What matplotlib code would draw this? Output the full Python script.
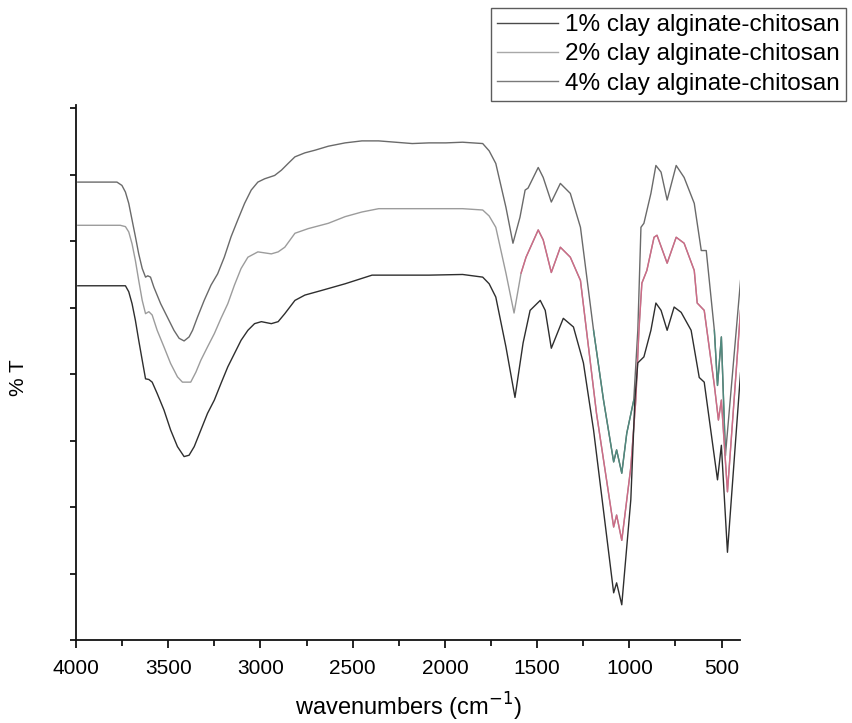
import numpy as np
import matplotlib
matplotlib.use("Agg")
import matplotlib.pyplot as plt
from matplotlib.ticker import MultipleLocator

# ---------------- data (wavenumber cm-1, %T arbitrary offset units) -------------
labels = ["1% clay alginate-chitosan", "2% clay alginate-chitosan", "4% clay alginate-chitosan"]

wn1 = [3990, 3778, 3751, 3732, 3714, 3696, 3678, 3660, 3641, 3623, 3611, 3596, 3578, 3541,
       3505, 3469, 3441, 3414, 3387, 3368, 3341, 3305, 3268, 3232, 3196, 3159, 3123, 3086,
       3050, 3014, 2977, 2923, 2886, 2850, 2813, 2759, 2704, 2632, 2541, 2450, 2359, 2268,
       2177, 2086, 1995, 1904, 1850, 1795, 1760, 1724, 1669, 1631, 1593, 1565,
       1549, 1494, 1467, 1423, 1374, 1320, 1265, 1194, 1140, 1085, 1069, 1041, 1014, 976,
       954, 937, 921, 883, 856, 828, 795, 746, 703, 648, 610, 583, 539, 522, 501, 479, 397]
t1 = [6.89, 6.89, 6.84, 6.74, 6.57, 6.32, 6.07, 5.81, 5.59, 5.46, 5.48, 5.46, 5.31, 5.06,
      4.86, 4.66, 4.54, 4.50, 4.56, 4.66, 4.86, 5.11, 5.34, 5.51, 5.76, 6.07, 6.32, 6.57,
      6.77, 6.89, 6.94, 6.99, 7.07, 7.17, 7.27, 7.33, 7.37, 7.43, 7.48, 7.51, 7.51, 7.49,
      7.47, 7.48, 7.48, 7.49, 7.48, 7.47, 7.36, 7.17, 6.51, 5.97, 6.36, 6.77,
      6.80, 7.11, 6.96, 6.59, 6.87, 6.72, 6.21, 4.66, 3.61, 2.68, 2.86, 2.51, 3.11, 3.61,
      4.66, 6.21, 6.27, 6.72, 7.14, 7.04, 6.62, 7.14, 6.96, 6.57, 5.86, 5.86, 4.66, 3.83,
      4.56, 2.78, 5.41]

wn2 = [3990, 3760, 3732, 3714, 3696, 3678, 3660, 3641, 3623, 3605, 3587, 3560, 3523, 3487,
       3450, 3423, 3378, 3350, 3323, 3287, 3250, 3214, 3177, 3141, 3105, 3068, 3014, 2941,
       2904, 2868, 2813, 2741, 2632, 2541, 2450, 2359, 2268, 2086, 1904, 1795, 1760, 1724,
       1669, 1625, 1587, 1560, 1494, 1467,
       1423, 1374, 1320, 1265, 1178, 1085, 1069, 1041, 992, 965, 948, 932, 905, 866, 850,
       795, 746, 703, 648, 632, 594, 539, 517, 501, 468, 397]
t2 = [6.24, 6.24, 6.22, 6.14, 5.96, 5.71, 5.41, 5.11, 4.91, 4.94, 4.89, 4.66, 4.41, 4.16,
      3.96, 3.88, 3.88, 4.03, 4.21, 4.41, 4.61, 4.84, 5.06, 5.34, 5.59, 5.76, 5.84, 5.81,
      5.84, 5.91, 6.12, 6.19, 6.27, 6.37, 6.44, 6.49, 6.49, 6.49, 6.49, 6.47, 6.38, 6.21,
      5.52, 4.92, 5.52, 5.76, 6.17, 6.02,
      5.53, 5.91, 5.76, 5.41, 3.41, 1.70, 1.88, 1.50, 2.60, 3.61, 4.66, 5.37, 5.56, 6.06,
      6.09, 5.67, 6.06, 5.97, 5.56, 5.07, 4.96, 3.83, 3.31, 3.61, 2.23, 4.96]

wn3 = [3990, 3732, 3714, 3696, 3678, 3660, 3641, 3623, 3605, 3587, 3560, 3523, 3487, 3450,
       3414, 3387, 3359, 3323, 3287, 3250, 3214, 3177, 3141, 3105, 3068, 3032, 2995, 2941,
       2904, 2868, 2813, 2759, 2668, 2541, 2395, 2268, 2086, 1904, 1795, 1760, 1724,
       1669, 1620, 1576, 1538, 1483, 1456, 1423,
       1358, 1303, 1249, 1194, 1085, 1069, 1041, 992, 970, 954, 921, 883, 856, 828, 795,
       757, 719, 665, 621, 594, 522, 501, 468, 397]
t3 = [5.33, 5.33, 5.24, 5.06, 4.81, 4.51, 4.21, 3.93, 3.92, 3.88, 3.71, 3.46, 3.16, 2.91,
      2.76, 2.78, 2.91, 3.16, 3.41, 3.61, 3.86, 4.11, 4.31, 4.51, 4.66, 4.76, 4.79, 4.76,
      4.79, 4.91, 5.11, 5.19, 5.26, 5.36, 5.49, 5.49, 5.49, 5.50, 5.46, 5.36, 5.16,
      4.41, 3.65, 4.47, 4.96, 5.11, 4.96, 4.39,
      4.84, 4.71, 4.17, 3.16, 0.71, 0.86, 0.53, 2.11, 3.61, 4.17, 4.26, 4.66, 5.07, 4.96,
      4.66, 5.01, 4.93, 4.66, 3.95, 3.88, 2.41, 2.93, 1.32, 4.02]

series = [(wn1, t1), (wn2, t2), (wn3, t3)]
base_colors = ["#6a6a6a", "#9c9c9c", "#2e2e2e"]
legend_colors = ["#4a4a4a", "#a8a8a8", "#7a7a7a"]
# accent (scan tint) colour ranges: (high wn, low wn, colour)
accents = [
    [(1200, 955, "#4f8a7e"), (545, 470, "#4f8a7e")],
    [(1600, 397, "#cf6a86")],
    [],
]

xticks = [4000, 3500, 3000, 2500, 2000, 1500, 1000, 500]

# ---------------- figure ----------------
fig = plt.figure(figsize=(8.52, 7.23), dpi=100)
ax = fig.add_axes([76 / 852, 1 - 640 / 723, 664 / 852, 535 / 723])

fam = ["Liberation Sans", "DejaVu Sans"]

handles = []
for (wn, t), c, lc, acc, lab in zip(series, base_colors, legend_colors, accents, labels):
    wn = np.array(wn, float)
    t = np.array(t, float)
    ax.plot(wn, t, color=c, lw=1.0, solid_joinstyle="round")
    for hi, lo, ac in acc:
        m = (wn <= hi) & (wn >= lo)
        ax.plot(wn[m], t[m], color=ac, lw=1.0, solid_joinstyle="round")
    h, = ax.plot([], [], color=lc, lw=1.0, label=lab)
    handles.append(h)

ax.set_xlim(4000, 400)
ax.set_ylim(0, 8.05)
ax.xaxis.set_minor_locator(MultipleLocator(250))
ax.set_xticks(xticks)
ax.set_xticklabels([str(v) for v in xticks], family=fam, fontsize=15)
ax.yaxis.set_major_locator(MultipleLocator(1))
ax.set_yticklabels([])
ax.tick_params(axis="x", which="major", direction="out", length=6, width=1.2, pad=8)
ax.tick_params(axis="x", which="minor", direction="out", length=4, width=1.2)
ax.tick_params(axis="y", which="major", direction="out", length=4, width=1.2)
for s in ["top", "right"]:
    ax.spines[s].set_visible(False)
for s in ["left", "bottom"]:
    ax.spines[s].set_linewidth(1.3)
    ax.spines[s].set_color("#111111")

ax.set_xlabel("wavenumbers (cm$^{-1}$)", family=fam, fontsize=17)
ax.xaxis.set_label_coords(0.5, -(707 - 640) / 535, transform=ax.transAxes)
ax.xaxis.label.set_va("center")
ax.set_ylabel("% T", family=fam, fontsize=15)
ax.yaxis.set_label_coords(-(76 - 19) / 664, (640 - 378) / 535, transform=ax.transAxes)
ax.yaxis.label.set_va("center")

leg = fig.legend(handles=handles, loc="upper right", bbox_to_anchor=(846 / 852, 1 - 8 / 723),
                 frameon=True, fancybox=False, edgecolor="#333333", handlelength=2.5,
                 handletextpad=0.3, borderpad=0.25, labelspacing=0.3, borderaxespad=0,
                 prop={"family": fam, "size": 17.5})
leg.get_frame().set_linewidth(1.0)

fig.savefig("out.png", dpi=100, facecolor="white")
